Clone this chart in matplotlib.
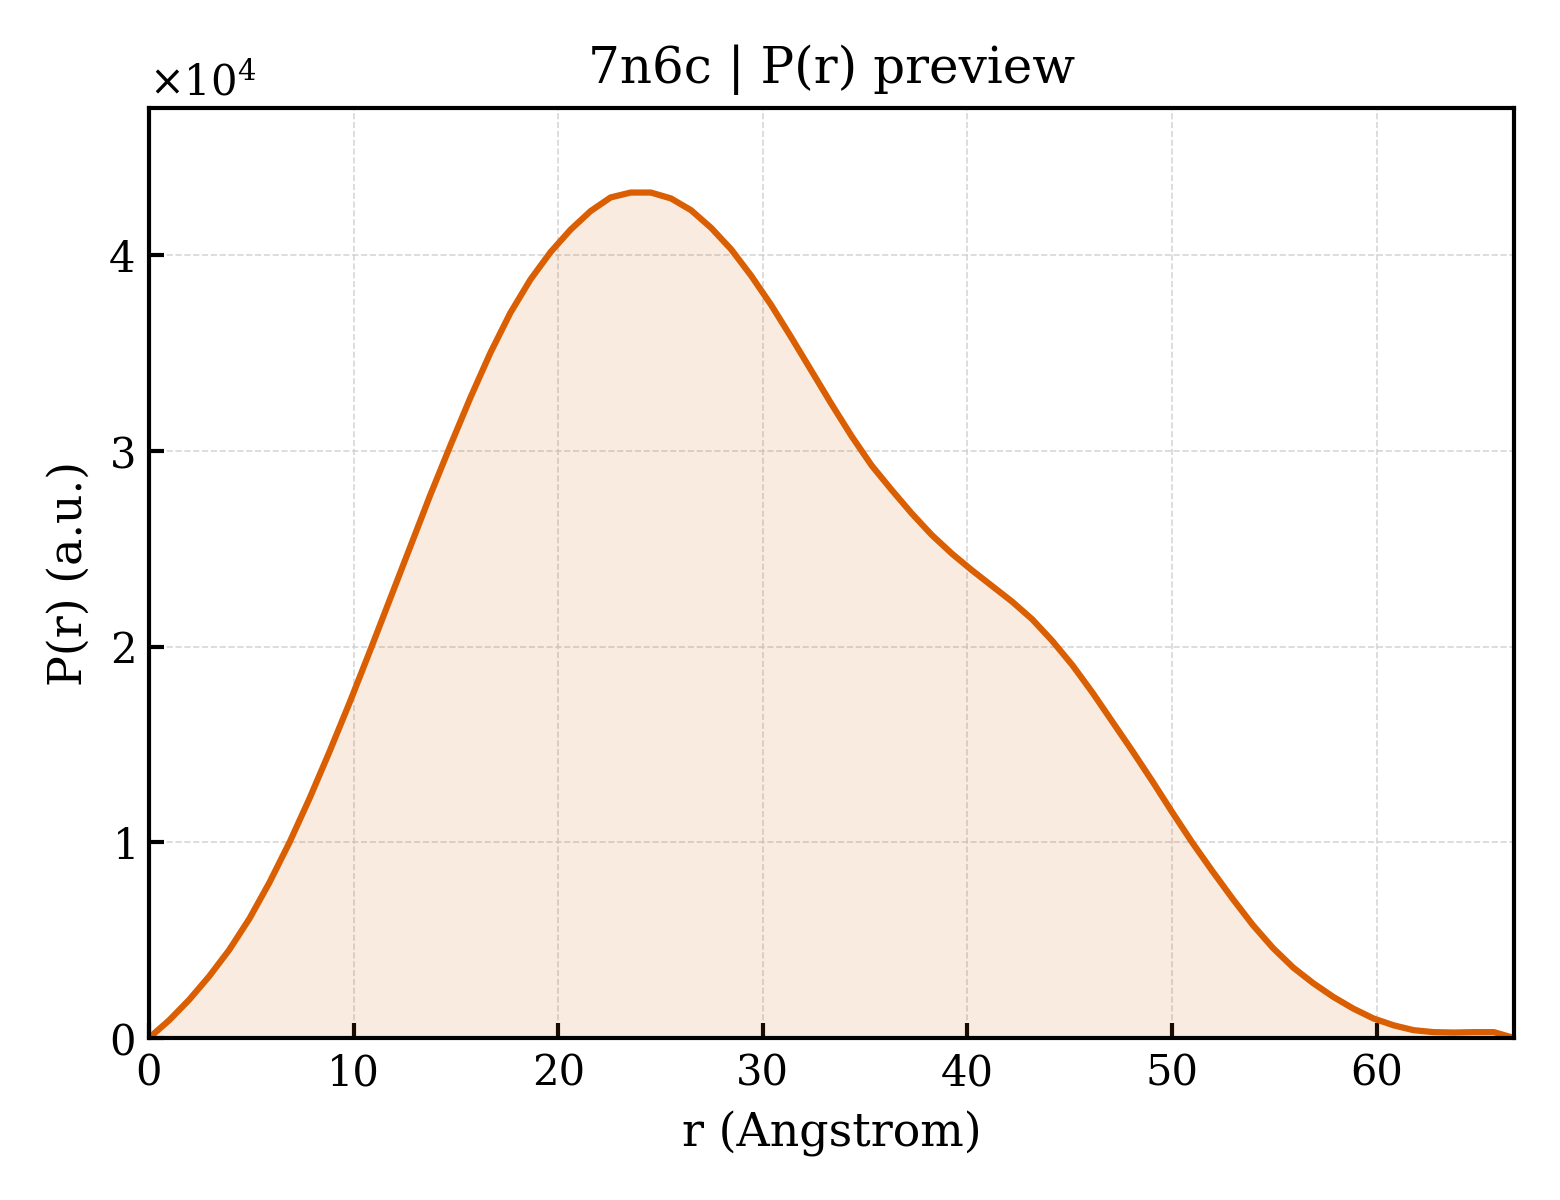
import matplotlib
matplotlib.use("Agg")
import matplotlib.pyplot as plt

plt.rcParams['font.family'] = ['DejaVu Serif']
plt.rcParams['mathtext.fontset'] = 'dejavuserif'

title = "7n6c | P(r) preview"
xlabel = "r (Angstrom)"
ylabel = "P(r) (a.u.)"

r_values = [0.00, 0.98, 1.96, 2.94, 3.92, 4.91, 5.89, 6.87, 7.85, 8.83,
            9.81, 10.79, 11.77, 12.75, 13.73, 14.72, 15.70, 16.68, 17.66, 18.64,
            19.62, 20.60, 21.58, 22.56, 23.54, 24.53, 25.51, 26.49, 27.47, 28.45,
            29.43, 30.41, 31.39, 32.37, 33.35, 34.34, 35.32, 36.30, 37.28, 38.26,
            39.24, 40.22, 41.20, 42.18, 43.16, 44.14, 45.13, 46.11, 47.09, 48.07,
            49.05, 50.03, 51.01, 51.99, 52.97, 53.95, 54.93, 55.92, 56.90, 57.88,
            58.86, 59.84, 60.82, 61.80, 62.78, 63.76, 64.75, 65.73, 66.71]

p_values = [0, 900, 1950, 3150, 4500, 6100, 7950, 10000, 12250, 14650,
            17150, 19750, 22400, 25050, 27700, 30250, 32700, 35000, 37050, 38750,
            40150, 41300, 42250, 42950, 43200, 43200, 42900, 42300, 41400, 40300,
            38950, 37450, 35800, 34100, 32400, 30750, 29250, 28000, 26800, 25700,
            24750, 23900, 23100, 22300, 21400, 20300, 19050, 17650, 16150, 14650,
            13100, 11500, 9950, 8500, 7100, 5770, 4600, 3600, 2800, 2100,
            1500, 1000, 650, 400, 300, 280, 300, 300, 0]

line_color = "#d95f02"

fig = plt.figure(figsize=(5.2, 4.0), dpi=300)
ax = fig.add_axes([0.0955, 0.135, 0.875, 0.775])

ax.fill_between(r_values, p_values, 0, color=line_color, alpha=0.12, linewidth=0)
ax.plot(r_values, p_values, color=line_color, linewidth=1.5)

ax.set_xlim(0, max(r_values))
ax.set_ylim(0, max(p_values) * 1.1)

ax.ticklabel_format(axis='y', style='sci', scilimits=(0, 0), useMathText=True)
ax.grid(True, linestyle='--', linewidth=0.4, color='#cccccc', alpha=0.8)
ax.set_axisbelow(True)

ax.tick_params(direction='in', length=3.5, width=1.0, labelsize=10)
for s in ax.spines.values():
    s.set_linewidth(1.0)

ax.set_title(title, fontsize=12)
ax.set_xlabel(xlabel, fontsize=11)
ax.set_ylabel(ylabel, fontsize=11)
ax.yaxis.get_offset_text().set_fontsize(10)

fig.savefig("out.png", dpi=300)
